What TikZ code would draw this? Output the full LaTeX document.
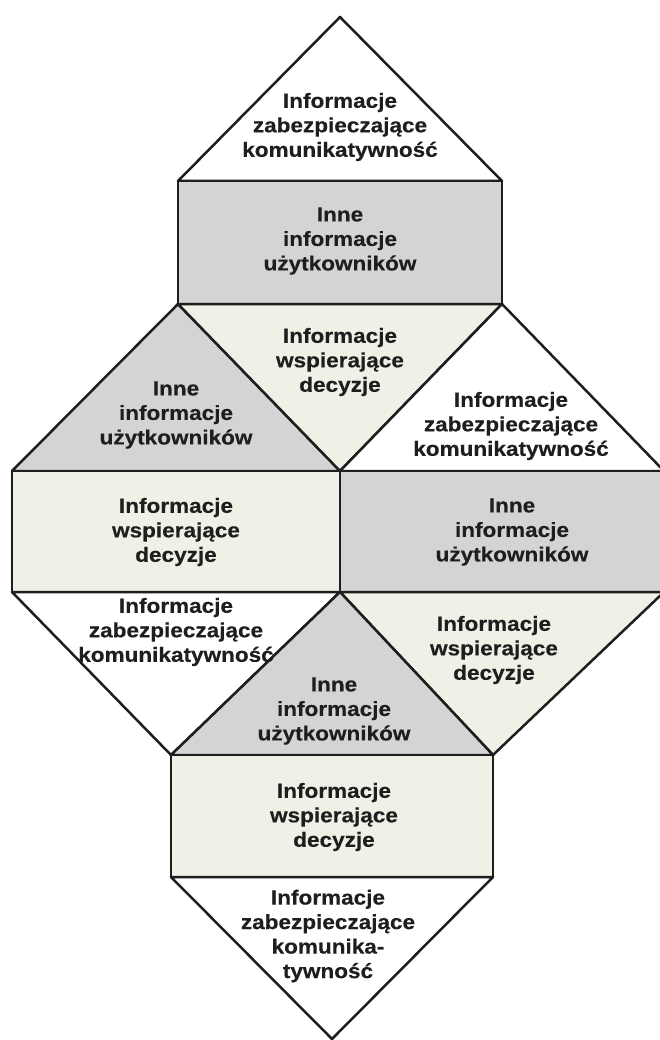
\documentclass[tikz,border=0pt]{standalone}
\usepackage{fontspec}
\setmainfont{Liberation Sans}[FakeStretch=1.1,FakeBold=0.35]
\definecolor{grayfill}{HTML}{D4D4D4}
\definecolor{lightfill}{HTML}{F0F0E6}
\definecolor{edge}{HTML}{1E1E1E}
\begin{document}
\begin{tikzpicture}[x=1pt,y=-1pt,
  face/.style={draw=edge,line width=2.5pt,line join=round},
  lbl/.style={align=center,inner sep=0pt,text=edge,font=\fontsize{20.5}{24.5}\selectfont\bfseries}]
\useasboundingbox (0,0) rectangle (660,1040);
\begin{scope}
\clip (0,0) rectangle (660,1040);
% top triangle
\draw[face,fill=white] (340,17) -- (502,181) -- (178,181) -- cycle;
% top rectangle
\draw[face,fill=grayfill] (178,181) rectangle (502,304);
% middle triangles
\draw[face,fill=grayfill] (178,304) -- (340,471) -- (12,471) -- cycle;
\draw[face,fill=lightfill] (178,304) -- (502,304) -- (340,471) -- cycle;
\draw[face,fill=white] (502,304) -- (664,471) -- (340,471) -- cycle;
% middle rectangles
\draw[face,fill=lightfill] (12,471) rectangle (340,592);
\draw[face,fill=grayfill] (340,471) rectangle (664,592);
% lower triangles
\draw[face,fill=white] (12,592) -- (340,592) -- (171,755) -- cycle;
\draw[face,fill=lightfill] (340,592) -- (664,592) -- (493,755) -- cycle;
\draw[face,fill=grayfill] (340,592) -- (493,755) -- (171,755) -- cycle;
% bottom rectangle
\draw[face,fill=lightfill] (171,755) rectangle (493,877);
% bottom triangle
\draw[face,fill=white] (171,877) -- (493,877) -- (332,1039) -- cycle;
\end{scope}
% labels
\node[lbl] (t1) at (340,127) {Informacje\\zabezpieczające\\komunikatywność};
\node[lbl] (t2) at (340,241) {Inne\\informacje\\użytkowników};
\node[lbl] (t3) at (340,362) {Informacje\\wspierające\\decyzje};
\node[lbl] (t4) at (176,415) {Inne\\informacje\\użytkowników};
\node[lbl] (t5) at (511,426) {Informacje\\zabezpieczające\\komunikatywność};
\node[lbl] (t6) at (176,532) {Informacje\\wspierające\\decyzje};
\node[lbl] (t7) at (512,532) {Inne\\informacje\\użytkowników};
\node[lbl] (t8) at (176,632) {Informacje\\zabezpieczające\\komunikatywność};
\node[lbl] (t9) at (494,650) {Informacje\\wspierające\\decyzje};
\node[lbl] (t10) at (334,711) {Inne\\informacje\\użytkowników};
\node[lbl] (t11) at (334,817) {Informacje\\wspierające\\decyzje};
\node[lbl] (t12) at (328,936) {Informacje\\zabezpieczające\\komunika-\\tywność};
\end{tikzpicture}
\end{document}
